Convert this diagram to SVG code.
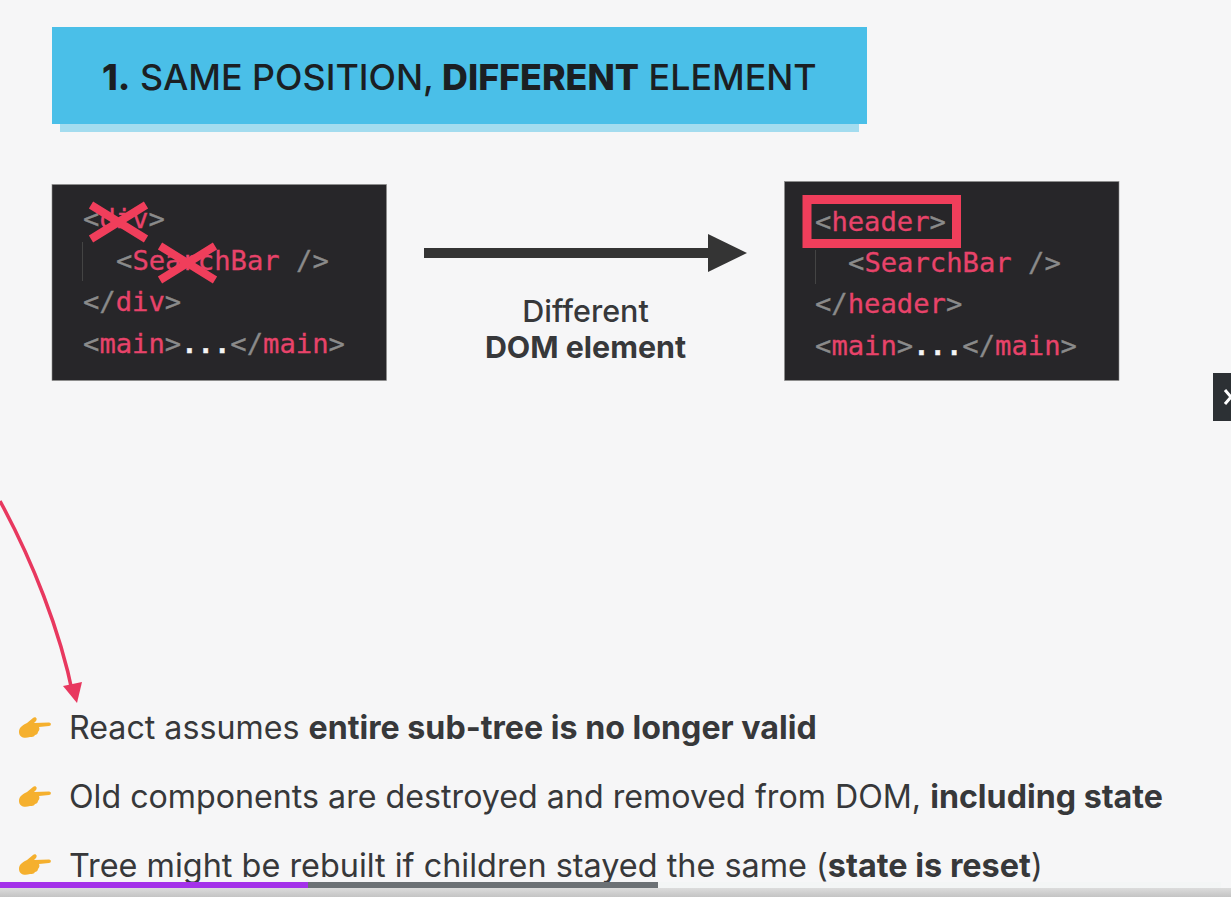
<svg xmlns="http://www.w3.org/2000/svg" width="1231" height="897" viewBox="0 0 1231 897">
<style>
.ui{font-family:Inter,"Liberation Sans",sans-serif;fill:#37383a}
.m{font-weight:500}
.b{font-weight:700}
.code{font-family:"DejaVu Sans Mono","Liberation Mono",monospace;font-size:27.2px;fill:#e8436a;stroke:#e8436a;stroke-width:.3}
.g{fill:#8a8a8a;stroke:#8a8a8a}
.w{fill:#f5f5f5;stroke:#f5f5f5;font-weight:700}
.panel{fill:#272629;stroke:#8c8c8c;stroke-width:.6}
.x{stroke:#f03e5b;stroke-width:8;fill:none}
.line{font-size:32.2px}
</style>
<defs>
<g id="hand">
<path d="M0 13C0 8 4 6 8 4L14 -1C16 -3 19 -1 17 2L15 4L30 3.500C32.500 3.500 32.500 7 30 7L20 8C21 10 20 12 19 13C19 15 17 16 16 16C15 18 13 18 11 18C5 20 0 18 0 13Z" fill="#f5b02e"/>
</g>
<linearGradient id="barfade" x1="0" y1="0" x2="0" y2="1"><stop offset="0" stop-color="#dcdcdc"/><stop offset="1" stop-color="#c4c4c4"/></linearGradient>
</defs>
<rect width="1231" height="897" fill="#f6f6f7"/>
<g id="title">
<rect x="60" y="40" width="799" height="92" fill="#a3dcef"/>
<rect x="52" y="27" width="815" height="97" fill="#4abfe8"/>
<text class="ui m" x="102" y="90" font-size="35.800" style="fill:#1b1f23"><tspan font-weight="800">1.</tspan> SAME POSITION, <tspan font-weight="800" dx="-1">DIFFERENT</tspan> ELEMENT</text>
</g>
<g id="code-before">
<rect class="panel" x="52" y="184.500" width="334.500" height="196"/>
<path d="M82.500 242V281" stroke="#444" stroke-width="1" fill="none"/>
<text class="code" x="83" y="228"><tspan class="g">&lt;</tspan>div<tspan class="g">&gt;</tspan></text>
<text class="code" x="116" y="270"><tspan class="g">&lt;</tspan>SearchBar <tspan class="g">/&gt;</tspan></text>
<text class="code" x="83" y="311"><tspan class="g">&lt;/</tspan>div<tspan class="g">&gt;</tspan></text>
<text class="code" x="83" y="353"><tspan class="g">&lt;</tspan>main<tspan class="g">&gt;</tspan><tspan class="w">...</tspan><tspan class="g">&lt;/</tspan>main<tspan class="g">&gt;</tspan></text>
<path class="x" d="M91 239L146 205M91 205L146 239M160 280L215 246M160 246L215 280"/>
</g>
<g id="code-after">
<rect class="panel" x="784.500" y="181.500" width="334.500" height="199"/>
<path d="M815.500 250V284" stroke="#444" stroke-width="1" fill="none"/>
<text class="code" x="815" y="231"><tspan class="g">&lt;</tspan>header<tspan class="g">&gt;</tspan></text>
<text class="code" x="848" y="272"><tspan class="g">&lt;</tspan>SearchBar <tspan class="g">/&gt;</tspan></text>
<text class="code" x="815" y="313"><tspan class="g">&lt;/</tspan>header<tspan class="g">&gt;</tspan></text>
<text class="code" x="815" y="355"><tspan class="g">&lt;</tspan>main<tspan class="g">&gt;</tspan><tspan class="w">...</tspan><tspan class="g">&lt;/</tspan>main<tspan class="g">&gt;</tspan></text>
<rect x="807" y="199.500" width="149.500" height="44" fill="none" stroke="#f03e5b" stroke-width="9"/>
</g>
<g id="connectors">
<path d="M424 253H712" stroke="#343434" stroke-width="10" fill="none"/>
<path d="M708 234L747 253L708 272Z" fill="#343434"/>
<path d="M0 501C32 560 60 630 73 695" stroke="#e8385f" stroke-width="3.500" fill="none"/>
<path d="M63 686L82 682L77 703Z" fill="#e8385f"/>
</g>
<g id="arrow-label">
<text class="ui m" x="585.500" y="322" font-size="30.500" text-anchor="middle">Different</text>
<text class="ui b" x="585.500" y="358" font-size="30.400" text-anchor="middle">DOM element</text>
</g>
<g id="bullets">
<use href="#hand" x="19" y="719"/>
<use href="#hand" x="19" y="788"/>
<use href="#hand" x="19" y="856"/>
<text class="ui line" x="69" y="739">React assumes <tspan class="b">entire sub-tree is no longer valid</tspan></text>
<text class="ui line" x="69" y="808">Old components are destroyed and removed from DOM, <tspan class="b">including state</tspan></text>
<text class="ui line" x="69" y="877" style="font-size:32.4px">Tree might be rebuilt if children stayed the same (<tspan class="b">state is reset</tspan>)</text>
</g>
<g id="player">
<rect x="0" y="888" width="1231" height="9" fill="url(#barfade)"/>
<rect x="658" y="882" width="563" height="6" fill="#f3f5f5"/>
<rect x="308" y="882" width="350" height="6" fill="#6c7175"/>
<rect x="0" y="882" width="308" height="6" fill="#a432ea"/>
<rect x="1213" y="373" width="18" height="48" fill="#2c3034"/>
<path d="M1225 390L1231 397L1225 404" stroke="#fff" stroke-width="3" fill="none"/>
</g>
</svg>
